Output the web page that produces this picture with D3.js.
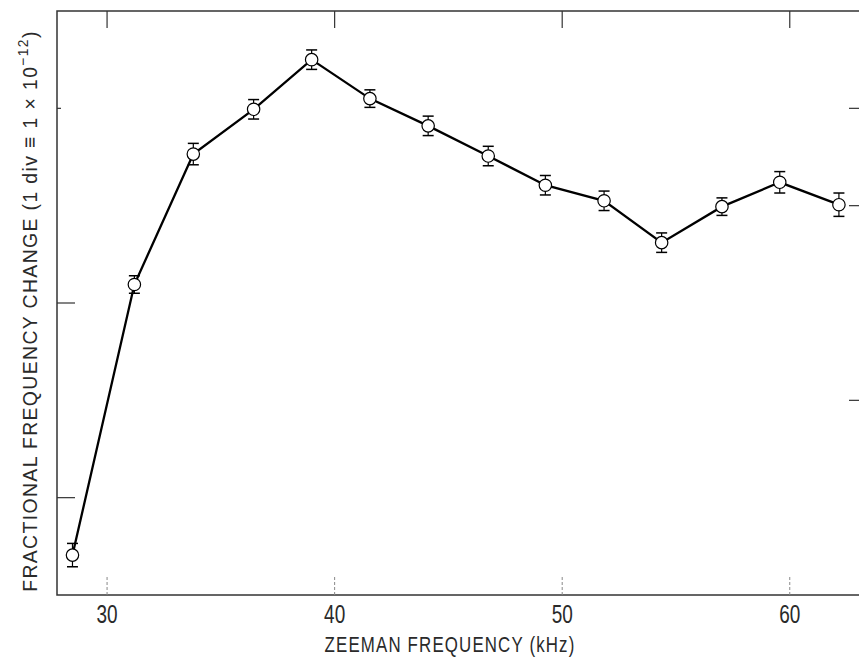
<!DOCTYPE html>
<html>
<head>
<meta charset="utf-8">
<script src="https://cdn.jsdelivr.net/npm/d3@7"></script>
<style>
  body { margin: 0; background: #fff; }
  svg { display: block; }
</style>
</head>
<body>
<div id="chart-area"></div>
<script>
// Zeeman frequency (kHz) vs fractional frequency change (divisions, 1 div = 1e-12)
var zeeman = [28.48, 31.20, 33.79, 36.44, 38.99, 41.55, 44.11, 46.75, 49.26, 51.84, 54.37, 57.02, 59.56, 62.16];
var change = [-0.59, 2.19, 3.53, 3.99, 4.50, 4.10, 3.82, 3.51, 3.21, 3.05, 2.62, 2.99, 3.24, 3.01];
var errs   = [0.12, 0.09, 0.11, 0.10, 0.10, 0.09, 0.10, 0.10, 0.10, 0.10, 0.10, 0.09, 0.11, 0.12];

var xTicks = [30, 40, 50, 60];
var yTicksLeft = [0, 2, 4];
var yTicksRight = [1, 3, 4];
var xDomain = [27.8, 63.35];
var yDomain = [-1, 5];

var margin = {left:57, right:-7, top:11, bottom:65};
var width = 859 - margin.left - margin.right;
var height = 660 - margin.top - margin.bottom;

var font = "'Liberation Sans', Arial, sans-serif";
var textColor = "#2a2a2a";

var svg = d3.select("#chart-area")
	.append("svg")
		.attr("width", 859)
		.attr("height", 660);

var g = svg.append("g")
	.attr("transform", "translate(" + margin.left + "," + margin.top + ")");

var x = d3.scaleLinear().domain(xDomain).range([0, width]);
var y = d3.scaleLinear().domain(yDomain).range([height, 0]);

var axisColor = "#333";

// frame
g.append("rect")
	.attr("x", 0).attr("y", 0)
	.attr("width", width).attr("height", height)
	.attr("fill", "none")
	.attr("stroke", axisColor)
	.attr("stroke-width", 1.5);

// top ticks
g.append("g").selectAll("line").data(xTicks).enter().append("line")
	.attr("x1", function(d){ return x(d); })
	.attr("x2", function(d){ return x(d); })
	.attr("y1", 0).attr("y2", 17)
	.attr("stroke", axisColor).attr("stroke-width", 1.2);

// bottom ticks (faint in the scan)
g.append("g").selectAll("line").data(xTicks).enter().append("line")
	.attr("x1", function(d){ return x(d); })
	.attr("x2", function(d){ return x(d); })
	.attr("y1", height).attr("y2", height - 20)
	.attr("stroke", "#888").attr("stroke-width", 1)
	.attr("stroke-dasharray", "3,2");

// left ticks
g.append("g").selectAll("line").data(yTicksLeft).enter().append("line")
	.attr("x1", 0).attr("x2", function(d){ return d == 4 ? 4 : 18; })
	.attr("y1", function(d){ return y(d); })
	.attr("y2", function(d){ return y(d); })
	.attr("stroke", axisColor).attr("stroke-width", 1.2);

// right ticks
g.append("g").selectAll("line").data(yTicksRight).enter().append("line")
	.attr("x1", width).attr("x2", width - 17)
	.attr("y1", function(d){ return y(d); })
	.attr("y2", function(d){ return y(d); })
	.attr("stroke", axisColor).attr("stroke-width", 1.2);

// x tick labels (condensed face -> squeeze horizontally)
g.append("g").selectAll("text").data(xTicks).enter().append("text")
	.attr("transform", function(d){ return "translate(" + x(d) + "," + (height + 28) + ") scale(0.76,1)"; })
	.attr("text-anchor", "middle")
	.attr("font-family", font)
	.attr("font-size", "25px")
	.attr("fill", textColor)
	.text(function(d){ return d; });

// x title
var xt = g.append("text")
	.attr("text-anchor", "middle")
	.attr("font-family", font)
	.attr("font-size", "22px")
	.attr("letter-spacing", "1.5px")
	.attr("fill", textColor)
	.text("ZEEMAN FREQUENCY (kHz)");
var xs = 251 / xt.node().getComputedTextLength();
xt.attr("transform", "translate(" + 393 + "," + (height + 57) + ") scale(" + xs + ",1)");

// y title
var yt = svg.append("text")
	.attr("text-anchor", "middle")
	.attr("font-family", font)
	.attr("font-size", "21px")
	.attr("letter-spacing", "1.5px")
	.attr("fill", textColor);
yt.append("tspan").text("FRACTIONAL FREQUENCY CHANGE (1 div \u2261 1 \u00d7 10");
yt.append("tspan").attr("dy", -9).attr("font-size", "15px").text("\u221212");
yt.append("tspan").attr("dy", 9).text(")");
var ys = 562 / yt.node().getComputedTextLength();
yt.attr("transform", "translate(37,311) rotate(-90) scale(" + ys + ",1)");

// line
var line = d3.line()
	.x(function(d, i){ return x(zeeman[i]); })
	.y(function(d){ return y(d); });

g.append("path")
	.datum(change)
	.attr("d", line)
	.attr("fill", "none")
	.attr("stroke", "#000")
	.attr("stroke-width", 2.3);

// error bars
var eb = g.append("g").selectAll("g").data(change).enter().append("g");
eb.append("line")
	.attr("x1", function(d, i){ return x(zeeman[i]); })
	.attr("x2", function(d, i){ return x(zeeman[i]); })
	.attr("y1", function(d, i){ return y(d + errs[i]); })
	.attr("y2", function(d, i){ return y(d - errs[i]); })
	.attr("stroke", "#000").attr("stroke-width", 1.2);
eb.append("line")
	.attr("x1", function(d, i){ return x(zeeman[i]) - 5.5; })
	.attr("x2", function(d, i){ return x(zeeman[i]) + 5.5; })
	.attr("y1", function(d, i){ return y(d + errs[i]); })
	.attr("y2", function(d, i){ return y(d + errs[i]); })
	.attr("stroke", "#000").attr("stroke-width", 1.5);
eb.append("line")
	.attr("x1", function(d, i){ return x(zeeman[i]) - 5.5; })
	.attr("x2", function(d, i){ return x(zeeman[i]) + 5.5; })
	.attr("y1", function(d, i){ return y(d - errs[i]); })
	.attr("y2", function(d, i){ return y(d - errs[i]); })
	.attr("stroke", "#000").attr("stroke-width", 1.5);

// points
g.append("g").selectAll("circle").data(change).enter().append("circle")
	.attr("cx", function(d, i){ return x(zeeman[i]); })
	.attr("cy", function(d){ return y(d); })
	.attr("r", 6.2)
	.attr("fill", "#fff")
	.attr("stroke", "#000")
	.attr("stroke-width", 1.2);
</script>
</body>
</html>
